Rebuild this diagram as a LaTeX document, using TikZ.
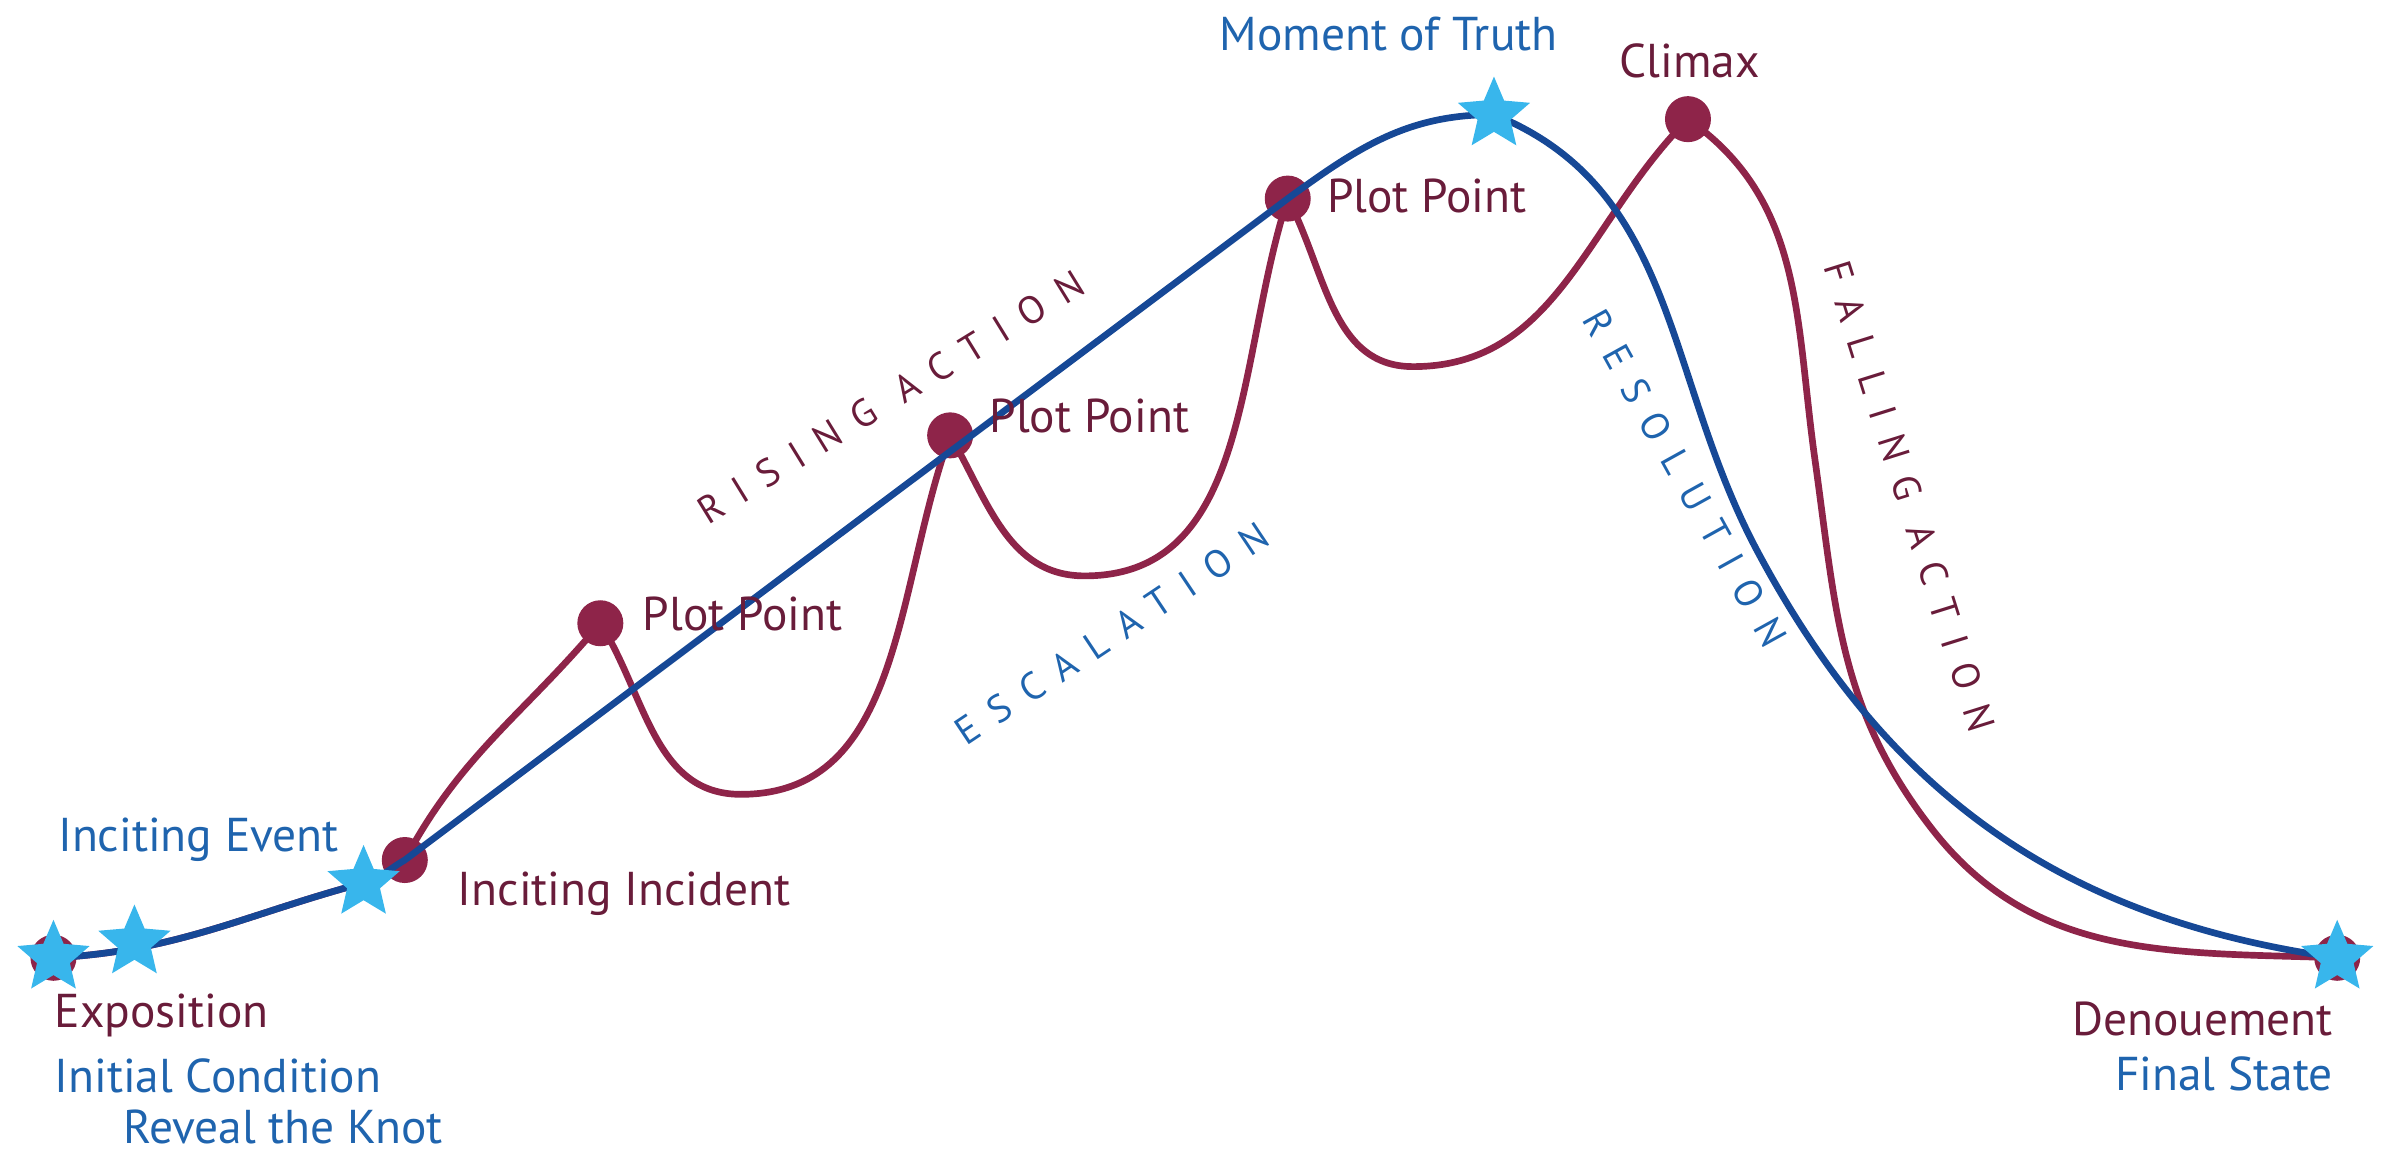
\documentclass[tikz,border=0pt]{standalone}
\usepackage{fontspec}
\setmainfont{PT Sans}
\usepackage{tikz}
\usetikzlibrary{positioning, shapes.geometric, backgrounds}
\definecolor{arcMaroon}{RGB}{142, 36, 73}
\definecolor{textMaroon}{RGB}{105, 28, 58}
\definecolor{arcBlue}{RGB}{22, 72, 150}
\definecolor{textBlue}{RGB}{31, 100, 174}
\definecolor{starBlue}{RGB}{56, 182, 236}
\newcommand{\spaced}[1]{{\addfontfeatures{LetterSpace=45}#1}}
\tikzset{
    plot_dot/.style={
        circle,
        fill=arcMaroon,
        inner sep=0pt,
        minimum size=0.46cm
    },
    story_star/.style={
        star,
        star points=5,
        star point ratio=2.2,
        fill=starBlue,
        inner sep=0pt,
        minimum size=0.76cm
    },
    blue_arc/.style={
        draw=arcBlue,
        line width=1.9pt
    },
    maroon_arc/.style={
        draw=arcMaroon,
        line width=1.9pt
    },
    maroon_label/.style={
        text=textMaroon,
        font=\fontsize{13.5}{15}\selectfont,
        inner sep=1pt
    },
    blue_label/.style={
        text=textBlue,
        font=\fontsize{13.5}{15}\selectfont,
        inner sep=1pt
    },
    phase_maroon/.style={
        text=textMaroon,
        font=\fontsize{11}{13}\selectfont,
        inner sep=1pt
    },
    phase_blue/.style={
        text=textBlue,
        font=\fontsize{11}{13}\selectfont,
        inner sep=1pt
    }
}
\begin{document}
\begin{tikzpicture}[x=0.015276cm, y=0.015276cm]
        \useasboundingbox (0,0) rectangle (1560,755);

        % points on the arcs
        \node[plot_dot] (expo) at (35,128) {};
        \node[plot_dot] (incident) at (265,192) {};
        \node[plot_dot] (pp1) at (393,347) {};
        \node[plot_dot] (pp2) at (622,470) {};
        \node[plot_dot] (pp3) at (843,625) {};
        \node[plot_dot] (climax) at (1105,677) {};
        \node[plot_dot] (denoue) at (1530,128) {};
        \coordinate (dip1) at (485,235);
        \coordinate (dip2) at (710,378);
        \coordinate (dip3) at (925,515);
        \coordinate (fall) at (1188,455);
        \coordinate (fall2) at (1265,212);
        \coordinate (reso) at (1150,395);
        \coordinate (knot) at (88,138);
        \coordinate (event) at (238,177);
        \coordinate (truth) at (978,680);

        % maroon arc
        \draw[maroon_arc] (expo.center) to[out=3, in=195] (event) to[out=15, in=210] (incident.center)
            to[out=62, in=-130] (pp1.center) to[out=-58, in=180] (dip1)
            to[out=0, in=-110] (pp2.center) to[out=-60, in=180] (dip2)
            to[out=0, in=-108] (pp3.center) to[out=-62, in=180] (dip3)
            to[out=0, in=-135] (climax.center) to[out=-35, in=98] (fall)
            to[out=-82, in=128] (fall2) to[out=-52, in=178] (denoue.center);

        % blue arc
        \draw[blue_arc] (expo.center) to[out=3, in=195] (event) to[out=15, in=210] (incident.center)
            -- (pp3.center) to[out=36, in=180] (truth)
            to[out=-22, in=118] (reso) to[out=-62, in=172] (denoue.center);

        \node[story_star] (s_expo) at (expo) {};
        \node[story_star] (s_knot) at (knot) {};
        \node[story_star] (s_event) at (event) {};
        \node[story_star] (s_truth) at (truth) {};
        \node[story_star] (s_final) at (denoue) {};

        % labels
        \node[blue_label] (l_event) at (130,205) {Inciting Event};
        \node[maroon_label, anchor=west] (l_incident) at (297,170) {Inciting Incident};
        \node[maroon_label, anchor=west] (l_expo) at (33,90) {Exposition};
        \node[blue_label, anchor=west] (l_init) at (33,51) {Initial Condition};
        \node[blue_label, anchor=west] (l_knot) at (78,17) {Reveal the Knot};
        \node[maroon_label, anchor=west] (l_pp1) at (418,353) {Plot Point};
        \node[maroon_label, anchor=west] (l_pp2) at (645,483) {Plot Point};
        \node[maroon_label, anchor=west] (l_pp3) at (866,627) {Plot Point};
        \node[blue_label] (l_truth) at (909,733) {Moment of Truth};
        \node[maroon_label] (l_climax) at (1106,715) {Climax};
        \node[maroon_label, anchor=east] (l_denoue) at (1530,88) {Denouement};
        \node[blue_label, anchor=east] (l_final) at (1530,52) {Final State};

        \node[phase_maroon, rotate=31.6] (l_rising) at (583,495) {\spaced{RISING ACTION}};
        \node[phase_blue, rotate=33.7] (l_escal) at (728,340) {\spaced{ESCALATION}};
        \node[phase_blue, rotate=-61] (l_reso) at (1103,442) {\spaced{RESOLUTION}};
        \node[phase_maroon, rotate=-72.6] (l_falling) at (1250,430) {\spaced{FALLING ACTION}};
    \end{tikzpicture}
\end{document}
